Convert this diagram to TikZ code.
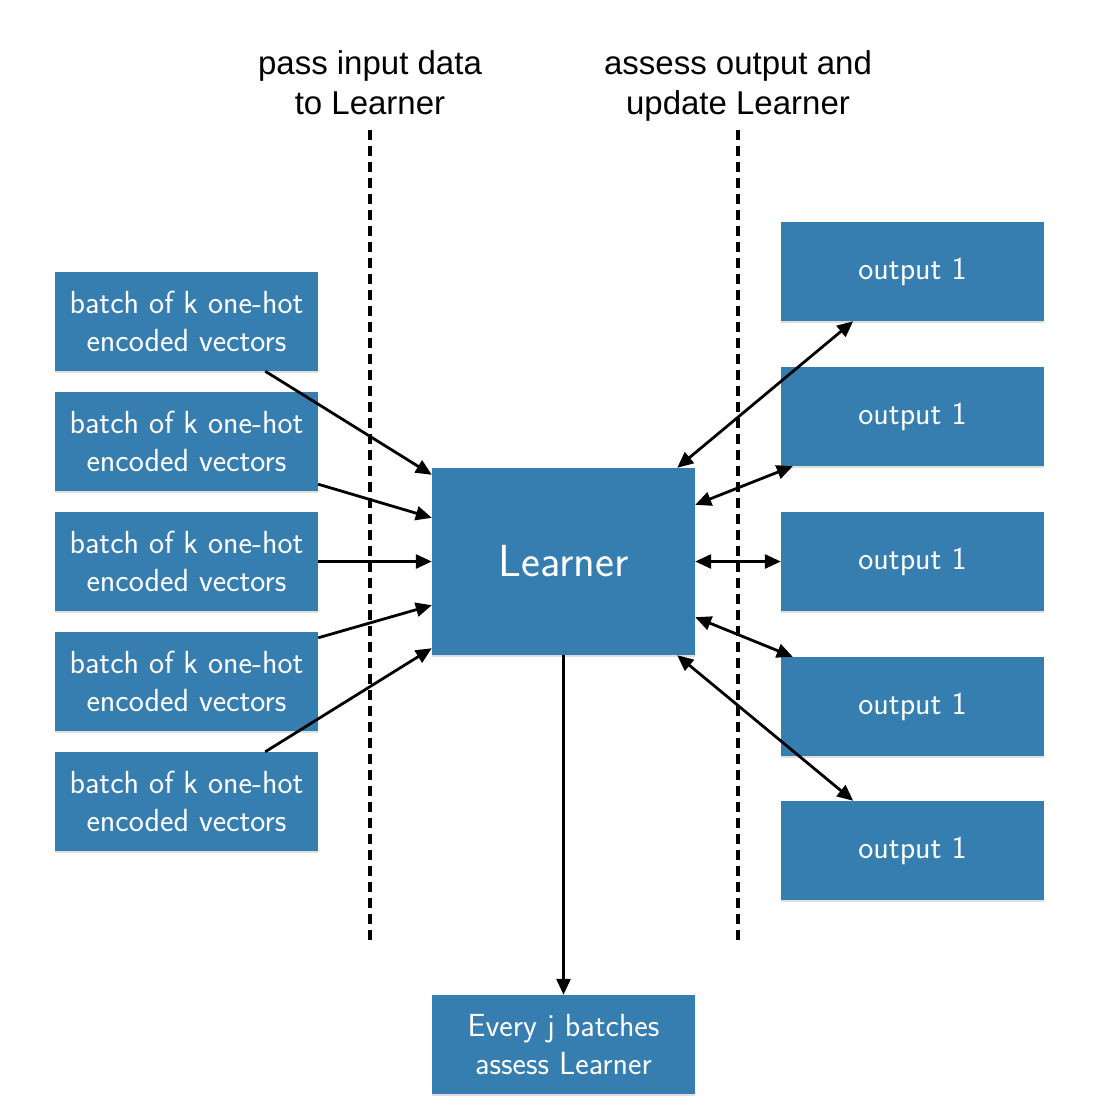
\documentclass[tikz,border=0pt]{standalone}
\usepackage{fontspec}
\newfontfamily\labelfont{Liberation Sans}
\usetikzlibrary{arrows.meta,shadows}
\definecolor{boxblue}{RGB}{54,126,176}
\tikzset{
  bluebox/.style={fill=boxblue, draw=none, minimum width=263pt, minimum height=99pt,
    inner sep=0pt, align=center, text=white, font=\sffamily\fontsize{32}{38}\selectfont,
    drop shadow={opacity=0.25, shadow xshift=0pt, shadow yshift=-2pt}},
  conn/.style={line width=2.8pt, -{Triangle[length=16pt,width=14pt]}},
  biconn/.style={line width=2.8pt, {Triangle[length=16pt,width=14pt]}-{Triangle[length=16pt,width=14pt]}},
  divider/.style={line width=4pt, dash pattern=on 10pt off 6pt},
  toplabel/.style={align=center, anchor=north, font=\labelfont\fontsize{33}{40}\selectfont}
}
\begin{document}
\begin{tikzpicture}[x=1pt,y=-1pt]
\useasboundingbox (0,0) rectangle (1104,1120);
% dividers
\coordinate (d1t) at (370,130); \coordinate (d1b) at (370,945);
\coordinate (d2t) at (738,130); \coordinate (d2b) at (738,945);
\draw[divider] (d1t) -- (d1b);
\draw[divider] (d2t) -- (d2b);
\node[toplabel] (lab1) at (370,47) {pass input data\\to Learner};
\node[toplabel] (lab2) at (738,47) {assess output and\\update Learner};
% left boxes
\foreach \i/\y in {1/321.5,2/441.5,3/561.5,4/681.5,5/801.5}{
  \node[bluebox] (b\i) at (186.5,\y) {batch of k one-hot\\encoded vectors};
}
% right boxes
\foreach \i/\y in {1/271.5,2/416.5,3/561.5,4/706.5,5/850.5}{
  \node[bluebox] (o\i) at (912.5,\y) {output 1};
}
% learner
\node[bluebox, minimum height=187pt, font=\sffamily\fontsize{45}{48}\selectfont] (L) at (563.5,561.5) {Learner};
% bottom
\node[bluebox] (ev) at (563.5,1044.5) {Every j batches\\assess Learner};
% input arrows
\draw[conn] ([xshift=-53pt]b1.south east) -- ([yshift=-7pt]L.north west);
\draw[conn] ([yshift=7pt]b2.south east) -- ([yshift=-50pt]L.north west);
\draw[conn] (b3.east) -- (L.west);
\draw[conn] ([yshift=-6pt]b4.north east) -- ([yshift=50pt]L.south west);
\draw[conn] ([xshift=-53pt]b5.north east) -- ([yshift=7pt]L.south west);
% output arrows
\draw[biconn] ([xshift=-18pt]L.north east) -- ([xshift=-191pt]o1.south east);
\draw[biconn] ([yshift=-37pt]L.north east) -- ([xshift=12pt]o2.south west);
\draw[biconn] (L.east) -- (o3.west);
\draw[biconn] ([yshift=38pt]L.south east) -- ([xshift=12pt]o4.north west);
\draw[biconn] ([xshift=-18pt]L.south east) -- ([xshift=-191pt]o5.north east);
% down
\draw[conn] (L.south) -- (ev.north);
\end{tikzpicture}
\end{document}
